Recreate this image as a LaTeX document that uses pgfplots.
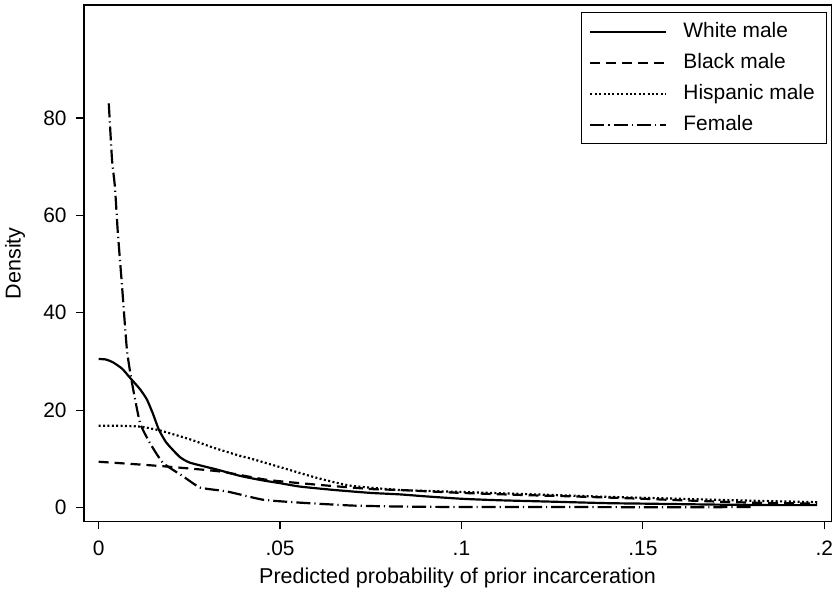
\documentclass[border=0pt]{standalone}
\usepackage{fontspec}
\setmainfont{Liberation Sans}
\usepackage{pgfplots}
\pgfplotsset{compat=1.18}
\begin{document}
\fontsize{10.5}{12.6}\selectfont
\begin{tikzpicture}
\begin{axis}[
  scale only axis,
  width=374bp, height=258.5bp,
  xmin=-0.00405, xmax=0.2019,
  ymin=-2.87, ymax=103.2,
  axis line style={line width=0.7pt},
  xtick={0,0.05,0.1,0.15,0.2},
  xticklabels={0,.05,.1,.15,.2},
  ytick={0,20,40,60,80},
  tick align=outside,
  major tick length=4bp,
  tick style={line width=0.6pt,black},
  xtick pos=bottom, ytick pos=left,
  /pgf/number format/assume math mode=true,
  yticklabel style={xshift=-1bp},
  xticklabel style={yshift=-2bp},
  xlabel={Predicted probability of prior incarceration},
  ylabel={Density},
  xlabel style={font=\fontsize{10.8}{13}\selectfont, yshift=1bp},
  ylabel style={font=\fontsize{10.8}{13}\selectfont, yshift=2bp},
  legend style={at={(rel axis cs:1,1)}, anchor=north east, xshift=-2bp, yshift=-3.5bp,
    draw=black, line width=0.5pt, font=\fontsize{10.5}{12.6}\selectfont,
    row sep=2.4bp, inner xsep=4bp, inner ysep=3bp, cells={anchor=west}},
  legend image code/.code={\draw[#1] (0bp,0bp) -- (38bp,0bp); \path (44bp,0bp);},
  clip=true,
]
\addplot[black, line width=1.1pt, smooth, tension=0.35] coordinates {
(0,30.5)(0.002,30.4)(0.004,29.8)(0.0065,28.5)(0.0087,26.6)(0.0113,24.4)(0.0133,22.2)(0.015,19.2)(0.0166,16)(0.0185,13.5)(0.0205,11.8)(0.0225,10.3)(0.0252,9.2)(0.0326,7.8)(0.039,6.5)(0.045,5.6)(0.05,5.0)(0.0555,4.3)(0.065,3.6)(0.075,3.0)(0.083,2.7)(0.09,2.3)(0.1,1.8)(0.11,1.5)(0.125,1.2)(0.14,0.9)(0.15,0.8)(0.17,0.6)(0.185,0.5)(0.198,0.5)};
\addlegendentry{White male}
\addplot[black, line width=1.1pt, dash pattern=on 5bp off 3bp, smooth, tension=0.35] coordinates {
(0,9.4)(0.01,8.9)(0.019,8.4)(0.0335,7.4)(0.0463,5.7)(0.06,4.7)(0.075,3.8)(0.083,3.6)(0.1,3.0)(0.12,2.5)(0.13,2.3)(0.15,1.8)(0.16,1.5)(0.18,1.0)(0.198,0.8)};
\addlegendentry{Black male}
\addplot[black, line width=1.1pt, dash pattern=on 1bp off 1.2bp, smooth, tension=0.35] coordinates {
(0,16.8)(0.005,16.8)(0.0115,16.6)(0.017,15.8)(0.0252,14)(0.0316,12.3)(0.039,10.6)(0.0417,10.1)(0.0509,8.1)(0.0601,6.1)(0.0693,4.5)(0.0831,3.6)(0.1,3.2)(0.12,2.7)(0.14,2.2)(0.16,1.8)(0.18,1.4)(0.198,1.1)};
\addlegendentry{Hispanic male}
\addplot[black, line width=1.1pt, dash pattern=on 7bp off 2bp on 0.6bp off 2bp, smooth, tension=0.3] coordinates {
(0.0028,83)(0.0037,71.4)(0.0045,65.8)(0.0053,56.4)(0.0064,46)(0.0078,32.4)(0.0092,25.6)(0.0114,17.4)(0.0141,13.3)(0.0177,9.2)(0.0233,6.4)(0.028,4.1)(0.0354,3.3)(0.0453,1.6)(0.0555,1.0)(0.07,0.4)(0.083,0.2)(0.1,0.1)(0.13,0.1)(0.16,0.05)(0.18,0.1)};
\addlegendentry{Female}
\coordinate (ll) at (rel axis cs:0,0);
\coordinate (ur) at (rel axis cs:1,1);
\end{axis}
\path (ll) ++(-42bp,-36.5bp) coordinate (bba);
\path (ur) ++(0.4bp,2.5bp) coordinate (bbb);
\pgfresetboundingbox
\path (bba) rectangle (bbb);
\end{tikzpicture}
\end{document}
